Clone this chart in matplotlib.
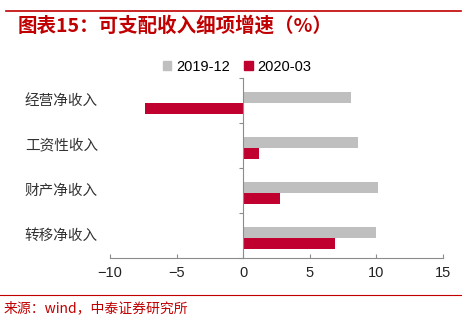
import matplotlib
matplotlib.use("Agg")
import matplotlib.pyplot as plt
from matplotlib.lines import Line2D
from matplotlib.patches import Patch
import numpy as np

plt.rcParams['font.family'] = ['Noto Sans CJK SC', 'DejaVu Sans']

categories = ['经营净收入', '工资性收入', '财产净收入', '转移净收入']
s2019_12 = [8.1, 8.6, 10.1, 10.0]
s2020_03 = [-7.4, 1.2, 2.8, 6.9]
series_names = ['2019-12', '2020-03']
xticks = [-10, -5, 0, 5, 10, 15]

grey = '#BFBFBF'
red = '#C0002F'
axis_c = '#8C8C8C'

fig = plt.figure(figsize=(4.74, 3.29), dpi=100)
ax = fig.add_axes([110/474, 1-258/329, 333/474, 180/329])

y = np.arange(len(categories))
h = 0.25
ax.barh(y - h/2 + 0.05, s2019_12, height=h, color=grey, label=series_names[0])
ax.barh(y + h/2 + 0.05, s2020_03, height=h, color=red, label=series_names[1])

ax.set_xlim(-10, 15)
ax.set_ylim(3.5, -0.5)
ax.set_xticks(xticks)
ax.set_xticklabels([str(t).replace('-', '\u2212') for t in xticks], fontsize=10.5,
                   family=['Liberation Sans', 'DejaVu Sans'], color='#222222')
ax.tick_params(axis='x', direction='in', length=3, color=axis_c, pad=6)
ax.set_yticks(np.arange(-0.5, len(categories), 1.0))
ax.set_yticklabels([])
ax.tick_params(axis='y', direction='out', length=3, color=axis_c)

for s in ['top', 'right']:
    ax.spines[s].set_visible(False)
ax.spines['left'].set_position(('data', 0))
ax.spines['left'].set_color(axis_c)
ax.spines['bottom'].set_color(axis_c)

for i, c in enumerate(categories):
    ax.text(-0.036, i, c, transform=ax.get_yaxis_transform(), ha='right', va='center',
            fontsize=10.5, color='#333333')

handles = [Patch(color=grey), Patch(color=red)]
fig.legend(handles, series_names, loc='center', bbox_to_anchor=(0.5, 1-67/329), ncol=2,
           frameon=False, handlelength=0.6, handleheight=0.6,
           columnspacing=1.0, handletextpad=0.3,
           prop={'family': ['Liberation Sans', 'DejaVu Sans'], 'size': 10.5})

# title and lines
fig.add_artist(Line2D([6/474, 461/474], [1-11/329, 1-11/329], color='#C00000', lw=1.2))
fig.text(18/474, 1-26/329, '图表15：可支配收入细项增速（%）', color='#C00000', fontsize=14,
         fontweight='bold', style='italic', va='center', ha='left')
fig.add_artist(Line2D([0, 461/474], [1-295/329, 1-295/329], color='#C00000', lw=0.8))
fig.text(4/474, 1-308/329, '来源：wind，中泰证券研究所', color='#C00000', fontsize=10,
         va='center', ha='left')

fig.savefig('out.png', dpi=100)
